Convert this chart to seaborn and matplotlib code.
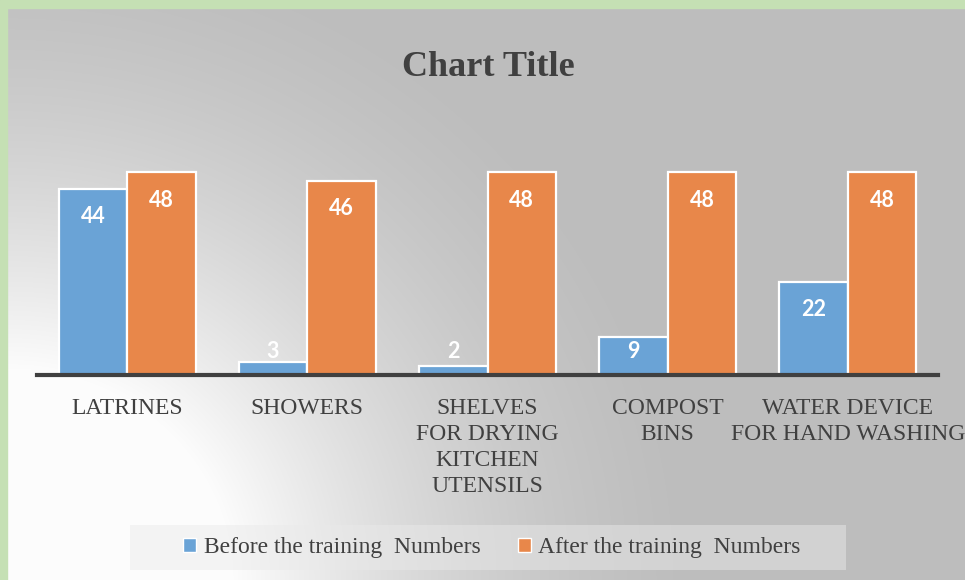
import numpy as np
import pandas as pd
import seaborn as sns
import matplotlib.pyplot as plt
from matplotlib.patches import Rectangle, Patch

# Data
categories = ["LATRINES", "SHOWERS", "SHELVES\nFOR DRYING\nKITCHEN\nUTENSILS",
              "COMPOST\nBINS", "WATER DEVICE\nFOR HAND WASHING"]
before_training = [44, 3, 2, 9, 22]
after_training = [48, 46, 48, 48, 48]
series_names = ["Before the training  Numbers", "After the training  Numbers"]

BLUE = "#6aa3d6"
ORANGE = "#e8874a"
TEXT = "#404040"

df = pd.DataFrame({
    "category": categories * 2,
    "value": before_training + after_training,
    "series": [series_names[0]] * 5 + [series_names[1]] * 5,
})

sns.set_theme(style="white")
plt.rcParams["font.family"] = ["Liberation Serif", "DejaVu Serif"]

W, H = 965, 580
fig = plt.figure(figsize=(W / 100, H / 100), dpi=100)

# Background: radial gradient, light at bottom-left, grey elsewhere
bg = fig.add_axes([0, 0, 1, 1], zorder=-2)
yy, xx = np.mgrid[0:H, 0:W]
r = np.hypot((xx - 10) * 0.95, yy - H)
t = np.clip((r - 210) / 420, 0, 1)
t = t * (2 - t) * 0.6 + t * 0.4
shade = 0.99 - (0.99 - 0.745) * t
bg.imshow(np.dstack([shade] * 3), extent=[0, W, H, 0], aspect="auto")
bg.set_xlim(0, W)
bg.set_ylim(H, 0)
bg.axis("off")

# green frame on top and left
fig.patches.append(Rectangle((0, 1 - 8 / H), 1, 8 / H, transform=fig.transFigure,
                             color="#c5e0b4", zorder=5))
fig.patches.append(Rectangle((0, 0), 7 / W, 1, transform=fig.transFigure,
                             color="#c5e0b4", zorder=5))

# Main axes
ax = fig.add_axes([37 / W, (H - 374.7) / H, 901 / W, 244.7 / H])
ax.set_facecolor("none")

sns.barplot(data=df, x="category", y="value", hue="series",
            palette=[BLUE, ORANGE], saturation=1, width=0.76, gap=0,
            edgecolor="white", linewidth=1.6, ax=ax, legend=False)

ax.set_xlim(-0.5, len(categories) - 0.5)
ax.set_ylim(0, 58)
ax.set_yticks([])
ax.set_xlabel("")
ax.set_ylabel("")
for s in ["top", "right", "left"]:
    ax.spines[s].set_visible(False)
ax.spines["bottom"].set_color("#404040")
ax.spines["bottom"].set_linewidth(3)
ax.tick_params(axis="x", length=0, pad=17, labelsize=17, labelcolor=TEXT)
for lbl in ax.get_xticklabels():
    lbl.set_linespacing(1.3)

# value labels (inside end, white)
for cont in ax.containers:
    for bar in cont:
        v = bar.get_height()
        ax.text(bar.get_x() + bar.get_width() / 2, max(v - 6.6, 5.5), f"{v:.0f}",
                ha="center", va="center", color="white", fontsize=15.5,
                fontweight="bold", family=["Lato", "DejaVu Sans"])

# title
fig.text(488 / W, 1 - 68 / H, "Chart Title", ha="center", va="center",
         fontsize=26, fontweight="bold", color=TEXT)

# legend box
fig.patches.append(Rectangle((130 / W, 1 - 570 / H), 716 / W, 45 / H,
                             transform=fig.transFigure, facecolor="#eaeaea",
                             alpha=0.48, edgecolor="none", zorder=1))
handles = [Patch(facecolor=BLUE, edgecolor="white"),
           Patch(facecolor=ORANGE, edgecolor="white")]
fig.legend(handles, series_names, loc="center", bbox_to_anchor=(492 / W, 1 - 548 / H),
           ncol=2, frameon=False, fontsize=17, labelcolor=TEXT,
           handlelength=0.55, handleheight=0.55, handletextpad=0.3,
           columnspacing=1.6)

plt.savefig("out.png", dpi=100)
